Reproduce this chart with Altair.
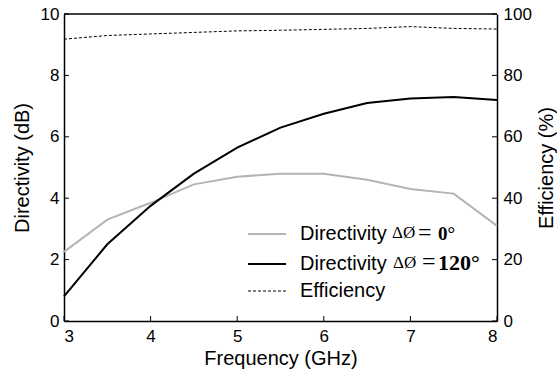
import altair as alt
import pandas as pd

freq = [3, 3.5, 4, 4.5, 5, 5.5, 6, 6.5, 7, 7.5, 8]
dir0 = [2.25, 3.3, 3.85, 4.45, 4.7, 4.8, 4.8, 4.6, 4.3, 4.15, 3.1]
dir120 = [0.8, 2.5, 3.75, 4.8, 5.65, 6.3, 6.75, 7.1, 7.25, 7.3, 7.2]
eff_freq = [3, 3.5, 4, 4.5, 5, 5.5, 6, 6.5, 7, 7.5, 8]
eff = [91.8, 93.0, 93.5, 94.0, 94.5, 94.7, 95.0, 95.3, 95.9, 95.3, 95.1]

x_ticks = [3, 4, 5, 6, 7, 8]
y_ticks = [0, 2, 4, 6, 8, 10]
eff_ticks = [0, 20, 40, 60, 80, 100]

W, H = 433, 307
FONT = "Liberation Sans"
SERIF = "Liberation Serif"

dir_df = pd.DataFrame({
    "Frequency": freq * 2,
    "Directivity": dir0 + dir120,
    "Series": ["d0"] * len(freq) + ["d120"] * len(freq),
})
eff_df = pd.DataFrame({"Frequency": eff_freq, "Efficiency": eff})
one = pd.DataFrame({"k": [0]})

xscale = alt.Scale(domain=[3, 8], nice=False, zero=False)

dir_lines = alt.Chart(dir_df).mark_line(strokeWidth=2).encode(
    x=alt.X("Frequency:Q", scale=xscale,
            axis=alt.Axis(values=x_ticks, format="d", title="Frequency (GHz)", ticks=False,
                          grid=False, domainColor="black", domainWidth=1.5,
                          labelPadding=7, titlePadding=4)),
    y=alt.Y("Directivity:Q", scale=alt.Scale(domain=[0, 10], nice=False),
            axis=alt.Axis(values=y_ticks, title="Directivity (dB)", ticks=False,
                          grid=False, domainColor="black", domainWidth=1.5,
                          labelPadding=5, titlePadding=8, orient="left")),
    color=alt.Color("Series:N", scale=alt.Scale(domain=["d0", "d120"],
                                                range=["#b4b4b4", "#000000"]),
                    legend=None),
)

eff_line = alt.Chart(eff_df).mark_line(strokeWidth=1, strokeDash=[3, 2], color="black").encode(
    x=alt.X("Frequency:Q", scale=xscale),
    y=alt.Y("Efficiency:Q", scale=alt.Scale(domain=[0, 100], nice=False),
            axis=alt.Axis(values=eff_ticks, title="Efficiency (%)", titleAngle=270,
                          ticks=False, grid=False, domainColor="black", domainWidth=1.5,
                          labelPadding=6, titlePadding=25, orient="right")),
)

xt_df = pd.DataFrame({"t": x_ticks})
yt_df = pd.DataFrame({"t": y_ticks})

xtick = alt.Chart(xt_df).mark_rule(color="black", strokeWidth=1).encode(
    x=alt.X("t:Q", scale=xscale),
    y=alt.value(H), y2=alt.value(H - 5),
)
ysc = alt.Scale(domain=[0, 10], nice=False)
ytick_l = alt.Chart(yt_df).mark_rule(color="black", strokeWidth=1).encode(
    y=alt.Y("t:Q", scale=ysc, axis=None),
    x=alt.value(0), x2=alt.value(5),
)
ytick_r = alt.Chart(yt_df).mark_rule(color="black", strokeWidth=1).encode(
    y=alt.Y("t:Q", scale=ysc, axis=None),
    x=alt.value(W - 5), x2=alt.value(W),
)

# manual legend
leg_rows = [220, 250, 277]
leg = []
for yy, col, dash, w in [(leg_rows[0], "#b4b4b4", [1, 0], 2),
                         (leg_rows[1], "#000000", [1, 0], 2),
                         (leg_rows[2], "#000000", [3, 2], 1)]:
    leg.append(alt.Chart(one).mark_rule(color=col, strokeWidth=w, strokeDash=dash).encode(
        x=alt.value(184), x2=alt.value(222), y=alt.value(yy)))

def txt(x, y, s, font=FONT, weight="normal", size=20):
    return alt.Chart(one).mark_text(align="left", baseline="middle", font=font,
                                    fontSize=size, fontWeight=weight, color="black").encode(
        x=alt.value(x), y=alt.value(y), text=alt.value(s))

r1, r2 = 219, 248
leg += [
    txt(236, leg_rows[0], "Directivity"),
    txt(328, r1, "ΔØ", font=SERIF, size=17),
    txt(354, r1, "=", font=SERIF, size=24),
    txt(374, r1 + 1, "0°", font=SERIF, weight="bold", size=19),
    txt(236, leg_rows[1], "Directivity"),
    txt(329, r2 + 1, "ΔØ", font=SERIF, size=17),
    txt(358, r2, "=", font=SERIF, size=24),
    txt(374, r2 + 1, "120°", font=SERIF, weight="bold", size=22),
    txt(236, leg_rows[2], "Efficiency"),
]

top = alt.Chart(one).mark_rule(color="black", strokeWidth=1.5).encode(
    x=alt.value(0), x2=alt.value(W), y=alt.value(0))

chart = alt.layer(dir_lines, eff_line, xtick, ytick_l, ytick_r, top, *leg).resolve_scale(
    y="independent"
).properties(
    width=W, height=H,
    autosize=alt.AutoSizeParams(type="none"),
    padding={"left": 64, "top": 14, "right": 60, "bottom": 54},
).configure_view(stroke=None).configure_axis(
    labelFont=FONT, titleFont=FONT, labelFontSize=17, titleFontSize=20,
    labelColor="black", titleColor="black", titleFontWeight="normal",
)

chart.save("out.html", embed_options={"renderer": "svg", "actions": False})
